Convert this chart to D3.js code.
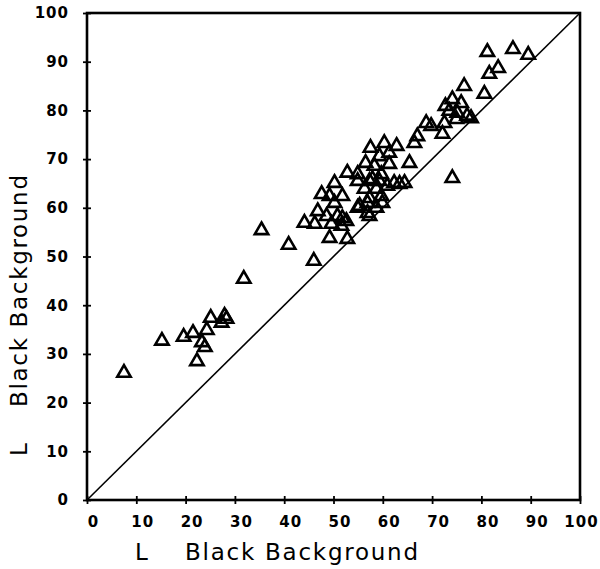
<!DOCTYPE html>
<html>
<head>
<meta charset="utf-8">
<script src="https://cdn.jsdelivr.net/npm/d3@7"></script>
<style>
  html, body { margin: 0; padding: 0; background: #fff; }
  svg { display: block; }
</style>
</head>
<body>
<svg id="chart" width="600" height="569"></svg>
<script>
// ---- data ----
const xTicks = [0, 10, 20, 30, 40, 50, 60, 70, 80, 90, 100];
const yTicks = [0, 10, 20, 30, 40, 50, 60, 70, 80, 90, 100];
const xTitle = "Black Background";
const yTitle = "Black Background";
const lLabel = "L";

// L (black background, x) for each sample
const lX = [
  7.5, 15.2, 19.6, 21.5, 22.3, 23.3, 23.9, 24.3, 25.1, 27.3,
  27.9, 28.3, 31.8, 35.4, 40.9, 46.0, 44.1, 46.2, 46.8, 47.6,
  48.6, 49.2, 49.6, 50.2, 50.2, 50.8, 51.6, 49.2, 51.8, 52.6,
  52.8, 52.8, 54.9, 54.9, 56.5, 57.5, 57.3, 56.9, 56.9, 58.7,
  59.3, 58.3, 59.3, 56.3, 58.7, 57.3, 59.7, 59.9, 57.3, 60.3,
  62.8, 61.3, 61.3, 65.4, 59.7, 57.9, 62.3, 64.4, 66.4, 67.0,
  69.8, 72.1, 68.8, 72.5, 73.5, 75.1, 77.1, 77.9, 74.9, 72.7,
  74.1, 75.9, 76.5, 80.6, 81.6, 83.4, 81.2, 86.4, 89.5, 74.1,
  55.3, 51.8, 63.4, 60.9, 54.9
];
// L (black background, y) for each sample
const lY = [
  26.3, 32.9, 33.7, 34.5, 28.7, 32.6, 31.6, 35.1, 37.6, 36.6,
  38.0, 37.4, 45.6, 55.6, 52.6, 49.3, 57.1, 56.9, 59.5, 63.0,
  58.5, 62.6, 56.9, 65.3, 61.2, 58.5, 56.5, 54.0, 62.6, 57.5,
  53.8, 67.4, 67.1, 60.2, 69.4, 72.5, 65.7, 61.2, 59.1, 60.2,
  70.8, 68.8, 65.7, 64.1, 64.1, 62.2, 62.6, 61.2, 58.5, 73.5,
  72.9, 71.5, 69.2, 69.4, 67.1, 66.1, 65.3, 65.3, 73.5, 74.9,
  77.0, 75.4, 77.6, 77.6, 80.1, 79.7, 79.1, 78.6, 78.4, 81.1,
  82.5, 81.7, 85.2, 83.6, 87.7, 88.9, 92.2, 92.8, 91.6, 66.3,
  60.6, 58.1, 65.1, 64.7, 65.7
];
const points = lX.map((v, i) => ({ x: v, y: lY[i] }));

// ---- drawing ----
const svg = d3.select("#chart");
const x = d3.scaleLinear().domain([0, 100]).range([87, 580]);
const y = d3.scaleLinear().domain([0, 100]).range([500, 13]);

const numFont = "'DejaVu Sans', sans-serif";

// frame
svg.append("rect")
  .attr("x", x(0)).attr("y", y(100))
  .attr("width", x(100) - x(0)).attr("height", y(0) - y(100))
  .attr("fill", "none").attr("stroke", "#000").attr("stroke-width", 2.6);

// identity line
svg.append("line")
  .attr("x1", x(0)).attr("y1", y(0))
  .attr("x2", x(100)).attr("y2", y(100))
  .attr("stroke", "#000").attr("stroke-width", 1.6);

// x axis
const gx = svg.append("g")
  .attr("transform", `translate(0,${y(0)})`)
  .call(d3.axisBottom(x).tickValues(xTicks).tickFormat(d3.format("d")).tickSize(4).tickPadding(12));
gx.select(".domain").remove();
gx.selectAll(".tick line").attr("y1", -4).attr("y2", 4).attr("stroke-width", 1.8);
gx.selectAll(".tick text")
  .attr("dx", d => d === 100 ? 1 : 6)
  .attr("font-family", numFont).attr("font-weight", "bold")
  .attr("font-size", 15).attr("letter-spacing", 1).attr("fill", "#000");

// y axis
const gy = svg.append("g")
  .attr("transform", `translate(${x(0)},0)`)
  .call(d3.axisLeft(y).tickValues(yTicks).tickFormat(d3.format("d")).tickSize(4).tickPadding(14));
gy.select(".domain").remove();
gy.selectAll(".tick line").attr("x1", -4).attr("x2", 4).attr("stroke-width", 1.8);
gy.selectAll(".tick text")
  .attr("font-family", numFont).attr("font-weight", "bold")
  .attr("font-size", 15).attr("letter-spacing", 1).attr("fill", "#000");

// markers
const tri = d3.symbol().type(d3.symbolTriangle).size(78);
svg.append("g").selectAll("path")
  .data(points)
  .join("path")
  .attr("d", tri)
  .attr("transform", d => `translate(${x(d.x)},${y(d.y) + 1})`)
  .attr("fill", "none").attr("stroke", "#000").attr("stroke-width", 2.6)
  .attr("stroke-linejoin", "miter");

// axis titles
const titleFont = "'DejaVu Sans', sans-serif";
svg.append("text").text(lLabel)
  .attr("x", 135).attr("y", 560)
  .attr("font-family", titleFont).attr("font-size", 23).attr("fill", "#000");
svg.append("text").text(xTitle)
  .attr("x", 185).attr("y", 560)
  .attr("textLength", 233).attr("lengthAdjust", "spacing")
  .attr("font-family", titleFont).attr("font-size", 23).attr("fill", "#000");

svg.append("text").text(lLabel)
  .attr("transform", "translate(27,456) rotate(-90)")
  .attr("font-family", titleFont).attr("font-size", 23).attr("fill", "#000");
svg.append("text").text(yTitle)
  .attr("transform", "translate(27,407) rotate(-90)")
  .attr("textLength", 232).attr("lengthAdjust", "spacing")
  .attr("font-family", titleFont).attr("font-size", 23).attr("fill", "#000");
</script>
</body>
</html>
